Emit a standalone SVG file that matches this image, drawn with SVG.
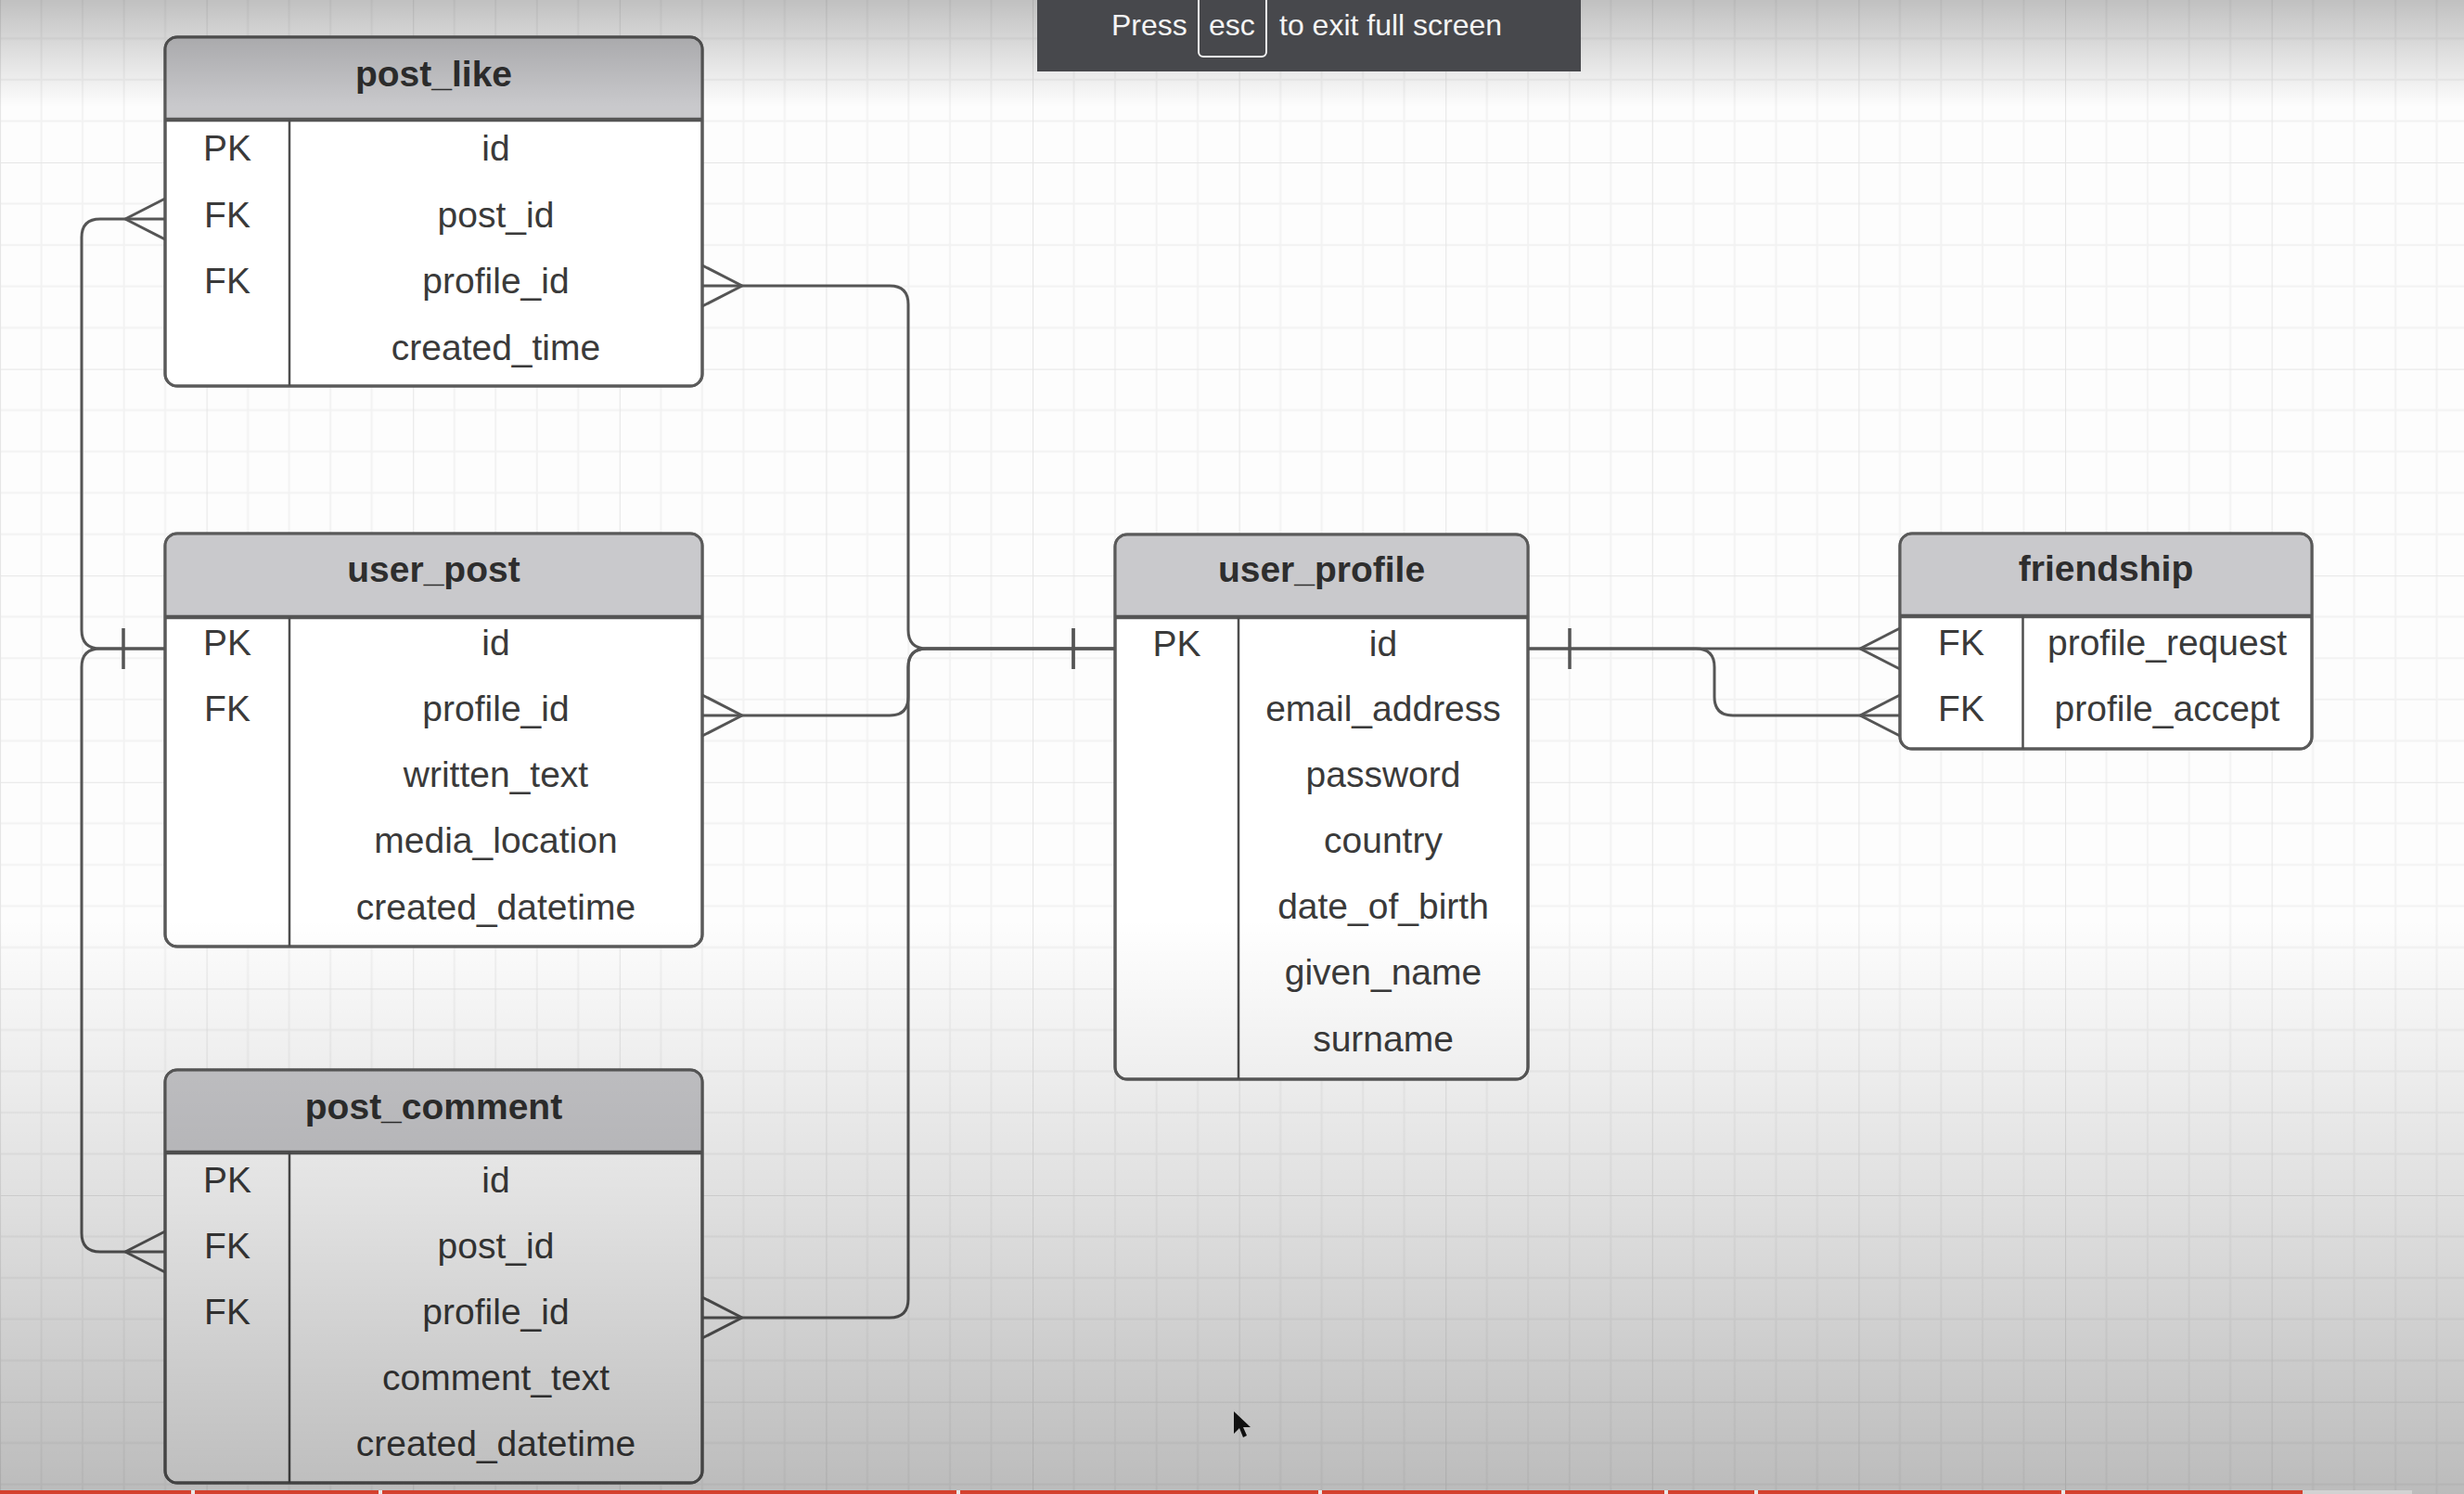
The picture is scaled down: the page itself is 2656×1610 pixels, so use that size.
<svg xmlns="http://www.w3.org/2000/svg" width="2656" height="1610" viewBox="0 0 2656 1610">
<style>
.frame{fill:#ffffff;stroke:#5a5a5a;stroke-width:3}
.head{fill:#c9c9cc;stroke:none}
.sep{stroke:#555555;stroke-width:4.5}
.div{stroke:#4e4e4e;stroke-width:2.5}
.title{font-family:"Liberation Sans",Arial,sans-serif;font-size:39px;font-weight:bold;fill:#2e2e2e;text-anchor:middle}
.fld{font-family:"Liberation Sans",Arial,sans-serif;font-size:39px;fill:#3a3a3a;text-anchor:middle}
.conn{fill:none;stroke:#555555;stroke-width:3}
.bar{font-family:"Liberation Sans",Arial,sans-serif;font-size:32px;fill:#f4f4f4}
</style>
<defs>
<pattern id="grid" patternUnits="userSpaceOnUse" x="0" y="175" width="222.6" height="222.6">
<path d="M44.52,0V222.6M89.04,0V222.6M133.56,0V222.6M178.08,0V222.6M0,44.52H222.6M0,89.04H222.6M0,133.56H222.6M0,178.08H222.6" stroke="#f2f2f2" stroke-width="2" fill="none"/>
<path d="M0,0V222.6M0,0H222.6" stroke="#e6e6e6" stroke-width="2.2" fill="none"/>
</pattern>
<linearGradient id="topShade" x1="0" y1="0" x2="0" y2="1">
<stop offset="0" stop-color="#000" stop-opacity="0.24"/>
<stop offset="1" stop-color="#000" stop-opacity="0"/>
</linearGradient>
<linearGradient id="botShade" x1="0" y1="0" x2="0" y2="1">
<stop offset="0" stop-color="#000" stop-opacity="0"/>
<stop offset="0.5" stop-color="#000" stop-opacity="0.12"/>
<stop offset="1" stop-color="#000" stop-opacity="0.26"/>
</linearGradient>
<marker id="many" markerUnits="userSpaceOnUse" viewBox="-50 -30 60 60" refX="0" refY="0" markerWidth="60" markerHeight="60" orient="auto" overflow="visible">
<path d="M-43,0L0,-22M-43,0L0,22" fill="none" stroke="#555555" stroke-width="3"/>
</marker>
<marker id="one" markerUnits="userSpaceOnUse" viewBox="0 -30 60 60" refX="0" refY="0" markerWidth="60" markerHeight="60" orient="auto" overflow="visible">
<path d="M45,-22L45,22" fill="none" stroke="#555555" stroke-width="3"/>
</marker>
</defs>
<rect x="0" y="0" width="2656" height="1610" fill="#fdfdfd"/>
<rect x="0" y="0" width="2656" height="1610" fill="url(#grid)"/>

<g id="post_like">
<rect class="frame" x="178" y="40" width="579" height="376" rx="13"/>
<path class="head" d="M179.5,129V53A11.5,11.5 0 0 1 191,41.5H744A11.5,11.5 0 0 1 755.5,53V129Z"/>
<rect x="178" y="40" width="579" height="376" rx="13" fill="none" stroke="#5a5a5a" stroke-width="3"/>
<line class="sep" x1="178" y1="129" x2="757" y2="129"/>
<line class="div" x1="312" y1="129" x2="312" y2="416"/>
<text class="title" x="467.5" y="93">post_like</text>
<text class="fld" x="245" y="173">PK</text><text class="fld" x="534.5" y="173">id</text>
<text class="fld" x="245" y="244.5">FK</text><text class="fld" x="534.5" y="244.5">post_id</text>
<text class="fld" x="245" y="316">FK</text><text class="fld" x="534.5" y="316">profile_id</text>
<text class="fld" x="534.5" y="387.5">created_time</text>
</g>

<g id="user_post">
<rect class="frame" x="178" y="575" width="579" height="445" rx="13"/>
<path class="head" d="M179.5,665V588A11.5,11.5 0 0 1 191,576.5H744A11.5,11.5 0 0 1 755.5,588V665Z"/>
<rect x="178" y="575" width="579" height="445" rx="13" fill="none" stroke="#5a5a5a" stroke-width="3"/>
<line class="sep" x1="178" y1="665" x2="757" y2="665"/>
<line class="div" x1="312" y1="665" x2="312" y2="1020"/>
<text class="title" x="467.5" y="627">user_post</text>
<text class="fld" x="245" y="706">PK</text><text class="fld" x="534.5" y="706">id</text>
<text class="fld" x="245" y="777">FK</text><text class="fld" x="534.5" y="777">profile_id</text>
<text class="fld" x="534.5" y="848">written_text</text>
<text class="fld" x="534.5" y="919">media_location</text>
<text class="fld" x="534.5" y="991">created_datetime</text>
</g>

<g id="post_comment">
<rect class="frame" x="178" y="1153" width="579" height="445" rx="13"/>
<path class="head" d="M179.5,1242V1166A11.5,11.5 0 0 1 191,1154.5H744A11.5,11.5 0 0 1 755.5,1166V1242Z"/>
<rect x="178" y="1153" width="579" height="445" rx="13" fill="none" stroke="#5a5a5a" stroke-width="3"/>
<line class="sep" x1="178" y1="1242" x2="757" y2="1242"/>
<line class="div" x1="312" y1="1242" x2="312" y2="1598"/>
<text class="title" x="467.5" y="1206">post_comment</text>
<text class="fld" x="245" y="1285">PK</text><text class="fld" x="534.5" y="1285">id</text>
<text class="fld" x="245" y="1356">FK</text><text class="fld" x="534.5" y="1356">post_id</text>
<text class="fld" x="245" y="1427">FK</text><text class="fld" x="534.5" y="1427">profile_id</text>
<text class="fld" x="534.5" y="1498">comment_text</text>
<text class="fld" x="534.5" y="1569">created_datetime</text>
</g>

<g id="user_profile">
<rect class="frame" x="1202" y="576" width="445" height="587" rx="13"/>
<path class="head" d="M1203.5,665V589A11.5,11.5 0 0 1 1215,577.5H1634A11.5,11.5 0 0 1 1645.5,589V665Z"/>
<rect x="1202" y="576" width="445" height="587" rx="13" fill="none" stroke="#5a5a5a" stroke-width="3"/>
<line class="sep" x1="1202" y1="665" x2="1647" y2="665"/>
<line class="div" x1="1335" y1="665" x2="1335" y2="1163"/>
<text class="title" x="1424.5" y="627">user_profile</text>
<text class="fld" x="1268.5" y="707">PK</text><text class="fld" x="1491" y="707">id</text>
<text class="fld" x="1491" y="777">email_address</text>
<text class="fld" x="1491" y="848">password</text>
<text class="fld" x="1491" y="919">country</text>
<text class="fld" x="1491" y="990">date_of_birth</text>
<text class="fld" x="1491" y="1061">given_name</text>
<text class="fld" x="1491" y="1133">surname</text>
</g>

<g id="friendship">
<rect class="frame" x="2048" y="575" width="444" height="232" rx="13"/>
<path class="head" d="M2049.5,664V588A11.5,11.5 0 0 1 2061,576.5H2479A11.5,11.5 0 0 1 2490.5,588V664Z"/>
<rect x="2048" y="575" width="444" height="232" rx="13" fill="none" stroke="#5a5a5a" stroke-width="3"/>
<line class="sep" x1="2048" y1="664" x2="2492" y2="664"/>
<line class="div" x1="2180.5" y1="664" x2="2180.5" y2="807"/>
<text class="title" x="2270" y="626">friendship</text>
<text class="fld" x="2114" y="706">FK</text><text class="fld" x="2336" y="706">profile_request</text>
<text class="fld" x="2114" y="777">FK</text><text class="fld" x="2336" y="777">profile_accept</text>
</g>

<g id="connectors">
<path class="conn" marker-start="url(#one)" marker-end="url(#many)" d="M1202,699H999Q979,699 979,679V328Q979,308 959,308H757"/>
<path class="conn" marker-start="url(#one)" marker-end="url(#many)" d="M1202,699H999Q979,699 979,719V751Q979,771 959,771H757"/>
<path class="conn" marker-start="url(#one)" marker-end="url(#many)" d="M1202,699H999Q979,699 979,719V1400Q979,1420 959,1420H757"/>
<path class="conn" marker-start="url(#one)" marker-end="url(#many)" d="M178,699H108Q88,699 88,679V256Q88,236 108,236H178"/>
<path class="conn" marker-start="url(#one)" marker-end="url(#many)" d="M178,699H108Q88,699 88,719V1329Q88,1349 108,1349H178"/>
<path class="conn" marker-start="url(#one)" marker-end="url(#many)" d="M1647,699H2048"/>
<path class="conn" marker-start="url(#one)" marker-end="url(#many)" d="M1647,699H1828Q1848,699 1848,719V751Q1848,771 1868,771H2048"/>
</g>

<polygon points="1330,1521 1330,1545 1336,1539 1340,1549 1344,1547 1340,1538 1348,1538" fill="#151515"/>

<rect x="0" y="0" width="2656" height="115" fill="url(#topShade)"/>
<rect x="0" y="990" width="2656" height="620" fill="url(#botShade)"/>

<g id="progress">
<rect x="0" y="1606" width="2482" height="4" fill="#d4412e"/>
<rect x="2482" y="1606" width="118" height="4" fill="#d2d2d2"/>
<path d="M208,1606V1610M410,1606V1610M1033,1606V1610M1423,1606V1610M1796,1606V1610M1893,1606V1610M2224,1606V1610" stroke="#e8e8e8" stroke-width="4"/>
</g>

<g id="fullscreen_notice">
<rect x="1118" y="0" width="586" height="77" fill="#47484c"/>
<rect x="1292" y="-10" width="73" height="71" rx="5" fill="none" stroke="#f4f4f4" stroke-width="2"/>
<text class="bar" x="1198" y="38">Press</text>
<text class="bar" x="1303" y="38">esc</text>
<text class="bar" x="1379" y="38">to exit full screen</text>
</g>
</svg>
